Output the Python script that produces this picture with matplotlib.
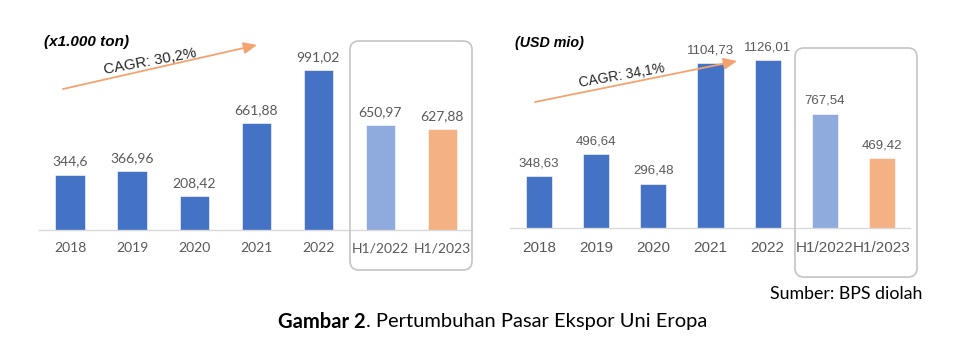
import matplotlib.pyplot as plt
from matplotlib.patches import FancyBboxPatch

# export volume to EU (x1.000 ton) and export value (USD mio)
years = ['2018', '2019', '2020', '2021', '2022', 'H1/2022', 'H1/2023']
volume = [344.6, 366.96, 208.42, 661.88, 991.02, 650.97, 627.88]
value = [348.63, 496.64, 296.48, 1104.73, 1126.01, 767.54, 469.42]
volume_labels = ['344,6', '366,96', '208,42', '661,88', '991,02', '650,97', '627,88']
value_labels = ['348,63', '496,64', '296,48', '1104,73', '1126,01', '767,54', '469,42']

W, H = 958, 338
BLUE = '#4472C4'
LIGHT = '#8FAADC'
ORANGE = '#F4B183'
GREY = '#595959'
bar_colors = [BLUE] * 5 + [LIGHT, ORANGE]

fig = plt.figure(figsize=(W / 100, H / 100), dpi=100)


def add_axes_px(x0, x1, y_top, y_base):
    # axes placed with pixel coords measured from the top-left corner
    return fig.add_axes([x0 / W, (H - y_base) / H, (x1 - x0) / W, (y_base - y_top) / H])


def bar_panel(ax, vals, labels, xlim, ytop, width, tick_font, tick_size, lab_size):
    x = range(len(vals))
    ax.bar(x, vals, width=width, color=bar_colors, edgecolor='white', linewidth=0.4)
    for xi, v, lab in zip(x, vals, labels):
        ax.annotate(lab, (xi, v), xytext=(0, 5), textcoords='offset points',
                    ha='center', va='bottom', fontsize=lab_size, color=GREY,
                    family=tick_font)
    ax.set_xlim(*xlim)
    ax.set_ylim(0, ytop)
    ax.set_xticks(list(x))
    ax.set_xticklabels(years, fontsize=tick_size, color=GREY, family=tick_font)
    ax.tick_params(axis='x', length=0, pad=9)
    ax.set_yticks([])
    for s in ['top', 'right', 'left']:
        ax.spines[s].set_visible(False)
    ax.spines['bottom'].set_color('#D9D9D9')
    ax.spines['bottom'].set_linewidth(1.0)
    ax.patch.set_alpha(0)


ax1 = add_axes_px(39, 472, 20, 230)
bar_panel(ax1, volume, volume_labels, (-0.5, 6.48), 210 / 0.161, 0.47,
          'Lato', 10, 10)

ax2 = add_axes_px(510, 910, 20, 228)
bar_panel(ax2, value, value_labels, (-0.507, 6.49), 208 / 0.149, 0.46,
          'Liberation Sans', 11, 9.5)

# overlay in pixel units for boxes, arrows and captions
ov = fig.add_axes([0, 0, 1, 1], zorder=5)
ov.set_xlim(0, W)
ov.set_ylim(H, 0)
ov.axis('off')
ov.patch.set_alpha(0)

for x0, y0, x1, y1 in [(350, 41, 472, 270), (795, 48, 917, 277)]:
    ov.add_patch(FancyBboxPatch((x0, y0), x1 - x0, y1 - y0,
                                boxstyle='round,pad=0,rounding_size=9',
                                fill=False, edgecolor='#C8C8C8', linewidth=1.3))

for (xa, ya, xb, yb) in [(63, 89, 257, 45), (535, 102, 737, 61)]:
    ov.annotate('', xy=(xb, yb), xytext=(xa, ya),
                arrowprops=dict(arrowstyle='-|>,head_length=0.8,head_width=0.35',
                                color='#F4A36E', linewidth=1.3, shrinkA=0, shrinkB=0))

ov.text(151, 65, 'CAGR: 30,2%', rotation=10.5, ha='center', va='baseline',
        fontsize=10.8, color='#262626', family='Liberation Sans',
        rotation_mode='anchor')
ov.text(622, 79, 'CAGR: 34,1%', rotation=10, ha='center', va='baseline',
        fontsize=10, color='#262626', family='Liberation Sans',
        rotation_mode='anchor')

ov.text(44, 42, '(x1.000 ton)', ha='left', va='center', fontsize=11,
        fontweight='bold', fontstyle='italic', family='Liberation Sans')
ov.text(515, 43, '(USD mio)', ha='left', va='center', fontsize=10.3,
        fontweight='bold', fontstyle='italic', family='Liberation Sans')

ov.text(922, 294, 'Sumber: BPS diolah', ha='right', va='center',
        fontsize=12.8, color='black', family='Lato')

# caption: bold figure number followed by the regular title
cap = ov.text(278, 322, 'Gambar 2', ha='left', va='center', fontsize=14.5,
              fontweight='bold', color='black', family='Lato')
ov.annotate('. Pertumbuhan Pasar Ekspor Uni Eropa', xy=(1, 0.5),
            xycoords=cap, ha='left', va='center', fontsize=14.5,
            color='black', family='Lato')

fig.savefig('out.png', dpi=100)
